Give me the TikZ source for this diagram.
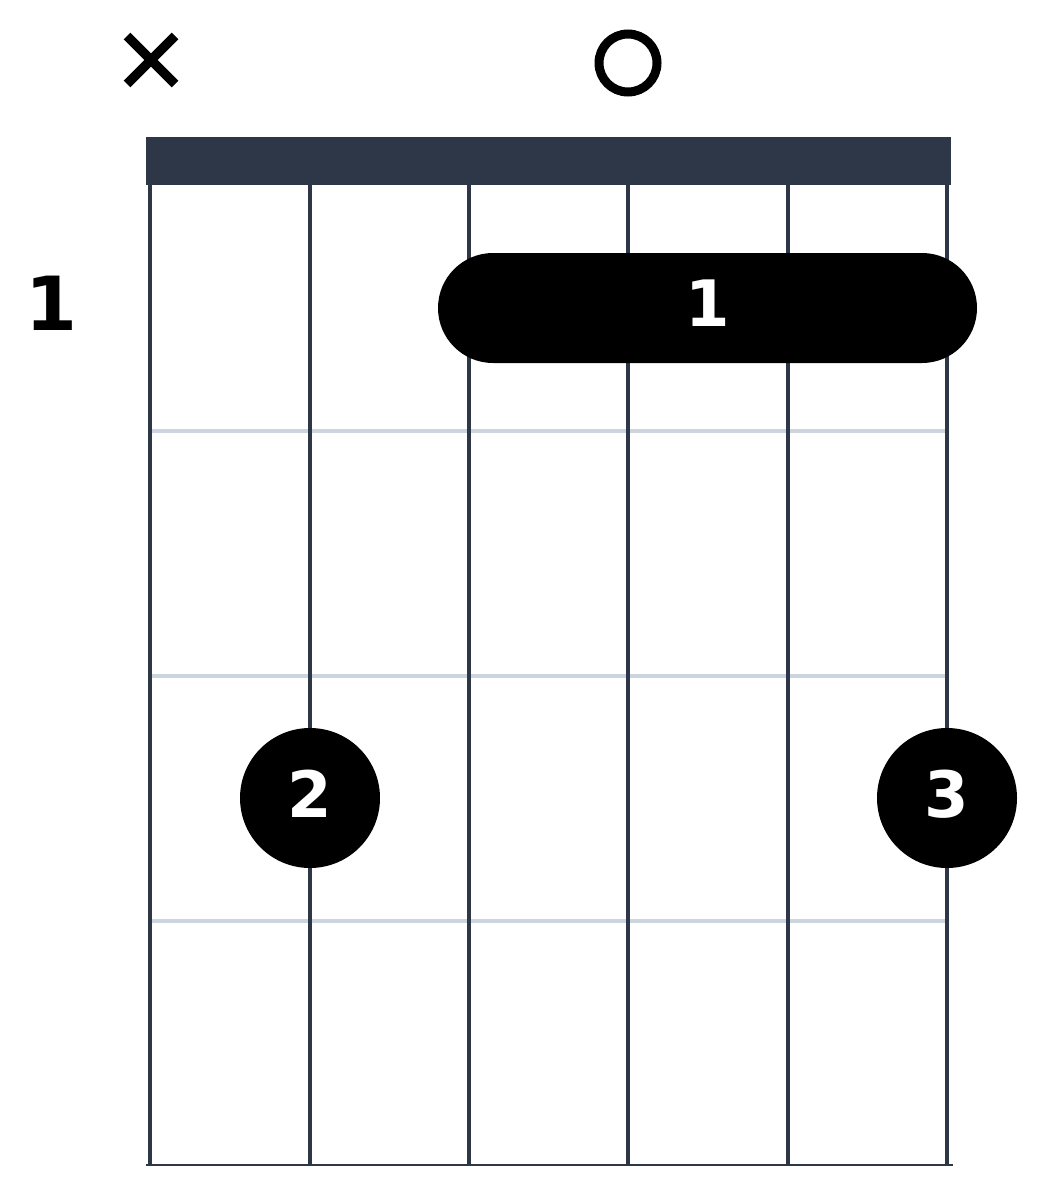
\documentclass[tikz,border=0pt]{standalone}
\usepackage{fontspec}
\setmainfont{DejaVu Sans}
\usetikzlibrary{positioning}
\definecolor{slate}{HTML}{2D3748}
\definecolor{fretgray}{HTML}{CBD5E0}

\begin{document}
\begin{tikzpicture}[x=0.75pt,y=-0.75pt,font=\bfseries]
        \tikzstyle{string line}=[draw=slate, line width=3.4pt]
        \tikzstyle{fret line}=[draw=fretgray, line width=3.2pt]
        \tikzstyle{finger}=[circle, fill=black, inner sep=0pt, minimum size=105pt, text=white, text depth=6.75pt, font=\fontsize{48}{52}\selectfont\bfseries]

        \useasboundingbox (0,0) rectangle (1057,1181);

        % frets
        \draw[fret line] (150,431) -- (947,431);
        \draw[fret line] (150,676) -- (947,676);
        \draw[fret line] (150,921) -- (947,921);
        \draw[slate, line width=1.5pt] (146,1165) -- (953,1165);

        % strings
        \draw[string line] (150,185) -- (150,1165);
        \draw[string line] (310,185) -- (310,1165);
        \draw[string line] (469,185) -- (469,1165);
        \draw[string line] (628,185) -- (628,1165);
        \draw[string line] (788,185) -- (788,1165);
        \draw[string line] (947,185) -- (947,1165);

        \node[fill=slate, inner sep=0pt, minimum width=603.75pt, minimum height=36pt] (nut) at (548.5,161) {};

        \node[font=\fontsize{56}{60}\selectfont\bfseries] (fretnum) at (51,303.5) {1};

        \node[finger, circle=false, rectangle, rounded corners=41.25pt, minimum width=404.25pt, minimum height=82.5pt] (barre) at (707.5,308) {1};
        \node[finger] (dot2) at (310,798) {2};
        \node[finger] (dot3) at (947,798) {3};

        % muted and open strings
        \coordinate (muted) at (151,60);
        \draw[line width=7pt] ([shift={(-24,-24)}]muted) -- ([shift={(24,24)}]muted)
                              ([shift={(-24,24)}]muted) -- ([shift={(24,-24)}]muted);
        \node[circle, draw, line width=6.75pt, minimum size=43.5pt, inner sep=0pt] (open) at (628,63) {};
      \end{tikzpicture}
\end{document}
